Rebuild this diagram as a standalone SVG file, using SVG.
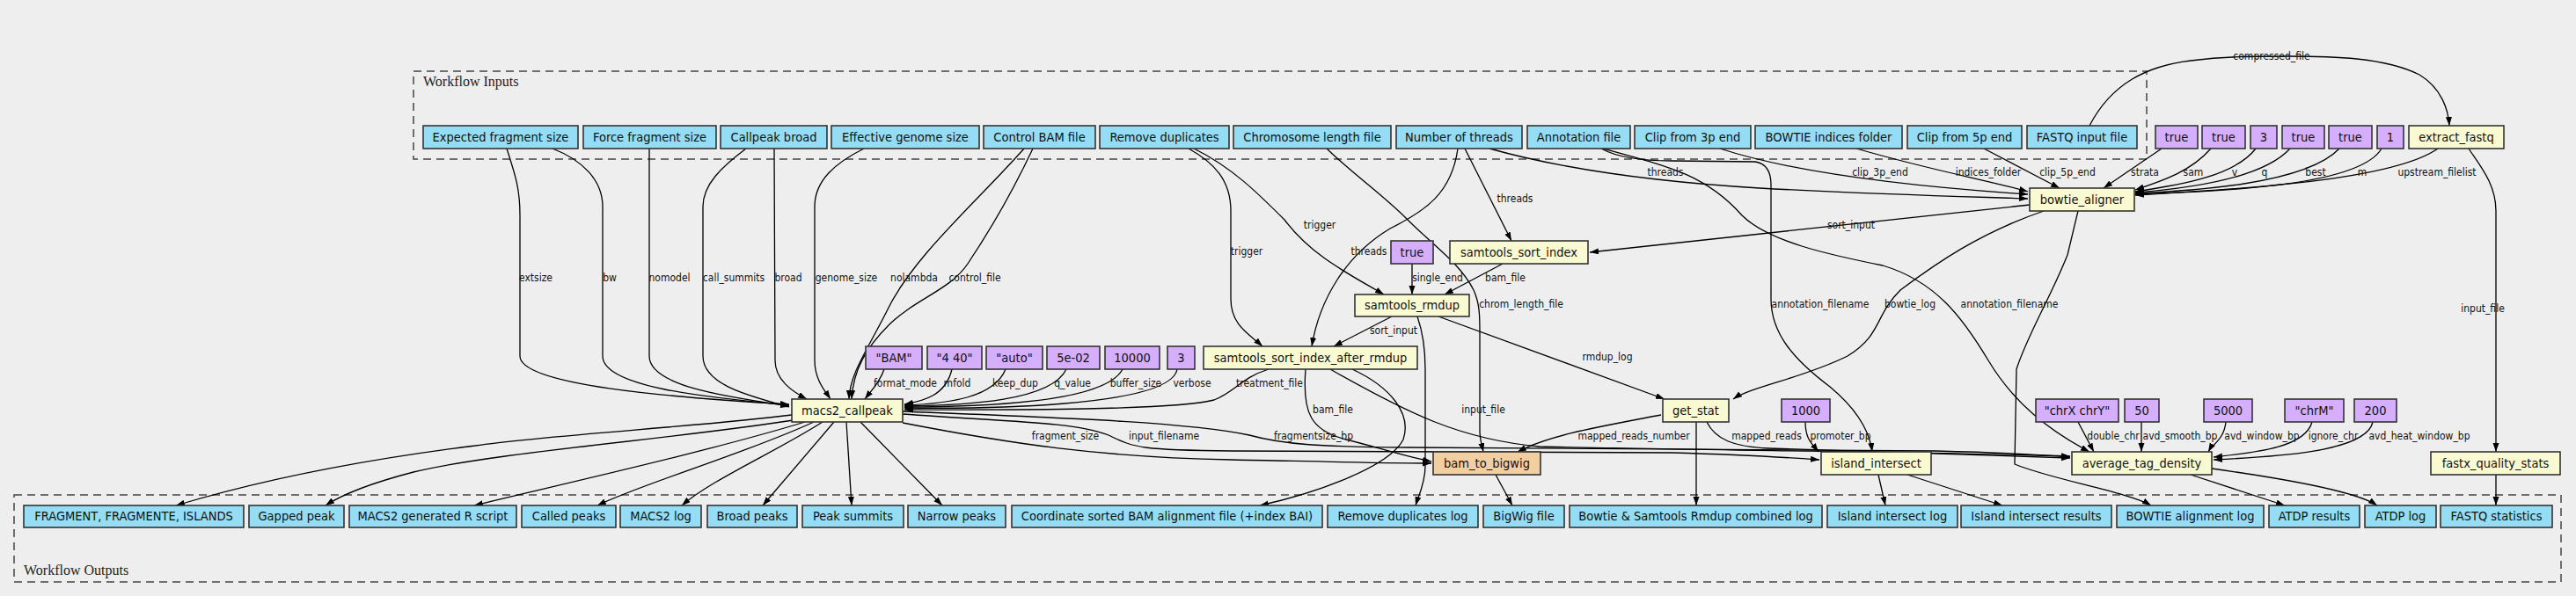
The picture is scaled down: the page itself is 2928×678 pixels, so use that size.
<svg xmlns="http://www.w3.org/2000/svg" width="2928" height="678" viewBox="0 0 2928 678">
<style>
.bg{fill:#eeeeee}
.cl{fill:none;stroke:#444;stroke-width:1.5;stroke-dasharray:9,6}
.clt{font-family:"Liberation Serif",serif;font-size:16px;fill:#222}
rect.inp{fill:#94ddf4;stroke:#333;stroke-width:1.6}
rect.cst{fill:#d5aefc;stroke:#333;stroke-width:1.6}
rect.tool{fill:#fafad2;stroke:#333;stroke-width:1.6}
rect.b2b{fill:#f3cea1;stroke:#333;stroke-width:1.6}
.nt{font-family:"DejaVu Sans Condensed","DejaVu Sans",sans-serif;font-stretch:condensed;font-size:14.5px;fill:#111;text-anchor:middle}
.el{font-family:"DejaVu Sans Condensed","DejaVu Sans",sans-serif;font-stretch:condensed;font-size:12px;fill:#111;text-anchor:middle}
#edges path{fill:none;stroke:#000;stroke-width:1.3;marker-end:url(#arr)}
</style>
<defs>
<marker id="arr" markerUnits="userSpaceOnUse" markerWidth="11" markerHeight="8" refX="10" refY="3.5" orient="auto">
<path d="M0,0 L10,3.5 L0,7 z" fill="#000"/>
</marker>
</defs>
<rect class="bg" x="0" y="0" width="2928" height="678"/>

<g id="cluster_inputs">
<rect class="cl" x="470" y="81" width="1970" height="100"/>
<text class="clt" x="481" y="98">Workflow Inputs</text>
</g>
<g id="cluster_outputs">
<rect class="cl" x="16" y="563" width="2895" height="99"/>
<text class="clt" x="27" y="654">Workflow Outputs</text>
</g>

<g id="edges">
<!-- inputs to macs2 -->
<path d="M576,169 C586,200 591,215 591,245 L591,405 C591,438 760,452 897,460"/>
<path d="M628,169 C662,182 685,205 685,235 L685,405 C685,440 800,452 897,461"/>
<path d="M738,169 L738,405 C738,440 830,452 897,462"/>
<path d="M848,169 C820,190 799,210 799,235 L799,405 C799,440 860,452 897,463"/>
<path d="M880,169 L881,410 C881,432 900,445 917,454"/>
<path d="M982,169 C950,185 926,205 926,235 L926,410 C926,432 938,445 944,454"/>
<path d="M1164,169 C1110,230 1040,290 1010,350 C985,400 966,425 965,454"/>
<path d="M1174,169 C1150,220 1120,270 1100,300 C1080,330 1040,340 1010,370 C985,395 970,420 968,454"/>
<!-- constants to macs2 -->
<path d="M1005,420 C1000,435 990,445 983,454"/>
<path d="M1082,420 C1075,450 1050,456 1028,460"/>
<path d="M1143,420 C1130,452 1080,459 1028,461"/>
<path d="M1212,420 C1195,456 1100,461 1028,462"/>
<path d="M1276,420 C1255,460 1100,463 1028,463"/>
<path d="M1338,420 C1330,465 1100,465 1028,464"/>
<path d="M1442,420 C1410,430 1405,445 1380,455 C1330,468 1100,466 1028,466"/>
<!-- macs2 outputs -->
<path d="M900,472 C800,485 620,495 540,507 C420,522 300,545 200,575"/>
<path d="M902,478 C760,500 560,515 470,537 C420,550 390,562 370,575"/>
<path d="M915,480 C800,515 620,555 539,575"/>
<path d="M925,480 C850,515 730,550 679,575"/>
<path d="M935,480 C880,515 810,545 775,575"/>
<path d="M948,480 L867,575"/>
<path d="M962,480 L968,575"/>
<path d="M978,480 L1071,575"/>
<path d="M1026,481 C1150,505 1250,520 1400,523 C1500,525 1580,527 1627,527"/>
<path d="M1026,471 C1150,480 1220,480 1260,495 C1290,510 1300,512 1400,513 L1900,515 C2000,518 2040,521 2068,523"/>
<path d="M1026,468 C1200,475 1350,480 1420,495 C1460,506 1500,508 1600,509 L2200,513 C2280,515 2330,518 2353,520"/>
<!-- samtools_sort_index_after_rmdup -->
<path d="M1484,420 C1480,470 1490,490 1530,500 C1570,510 1600,520 1627,525"/>
<path d="M1512,420 C1600,470 1660,500 1750,508 C1900,512 2200,514 2353,519"/>
<path d="M1537,420 C1580,440 1605,470 1595,500 C1580,530 1500,560 1432,575"/>
<!-- samtools_rmdup -->
<path d="M1611,360 C1618,380 1620,400 1620,420 L1620,530 C1620,550 1612,565 1609,575"/>
<path d="M1635,360 L1892,454"/>
<path d="M1582,360 L1516,394"/>
<!-- get_stat -->
<path d="M1888,472 C1820,485 1760,495 1725,514"/>
<path d="M1928,480 L1928,575"/>
<path d="M1940,480 C1950,500 1970,508 2010,510 L2353,521"/>
<!-- 1000 -->
<path d="M2052,480 C2052,500 2060,505 2067,514"/>
<!-- annotation -->
<path d="M1820,169 C1840,180 1870,183 1900,183 L1995,184 C2008,186 2013,195 2013,210 L2013,340 C2013,380 2040,410 2080,440 C2110,465 2125,490 2128,514"/>
<path d="M1822,169 C1900,190 1940,200 1980,245 C2010,275 2080,290 2140,302 C2200,320 2230,360 2260,410 C2290,460 2330,490 2375,514"/>
<!-- bowtie_aligner -->
<path d="M2323,240 C2250,265 2200,300 2160,330 C2130,360 2140,380 2100,405 C2050,430 1990,440 1970,454"/>
<path d="M2362,240 L2350,290 C2330,340 2305,380 2292,420 L2290,528 C2330,545 2420,560 2445,575"/>
<path d="M2307,233 L1807,287"/>
<!-- threads -->
<path d="M1693,169 C1750,185 1850,205 2000,214 C2150,222 2250,224 2305,226"/>
<path d="M1665,169 L1718,274"/>
<path d="M1657,169 C1650,220 1620,240 1580,260 C1530,290 1500,340 1491,394"/>
<!-- chrom length -->
<path d="M1508,169 C1540,200 1570,220 1600,250 C1630,280 1660,300 1675,330 C1682,345 1682,360 1682,380 L1682,490 C1682,500 1684,505 1686,514"/>
<!-- remove duplicates -->
<path d="M1357,169 C1400,190 1430,220 1460,250 C1490,290 1530,310 1573,335"/>
<path d="M1351,169 C1380,185 1399,205 1399,240 L1399,340 C1399,370 1420,380 1435,394"/>
<!-- bowtie inputs -->
<path d="M1955,169 C2050,200 2200,214 2305,221"/>
<path d="M2110,169 C2200,195 2260,205 2305,218"/>
<path d="M2255,169 L2341,214"/>
<path d="M2457,169 L2391,214"/>
<path d="M2513,169 C2490,195 2460,205 2427,216"/>
<path d="M2564,169 C2540,200 2480,210 2427,218"/>
<path d="M2603,169 C2570,205 2480,215 2427,219"/>
<path d="M2659,169 C2620,210 2490,217 2427,220"/>
<path d="M2707,169 C2680,215 2500,218 2427,221"/>
<path d="M2771,169 C2720,205 2550,215 2427,222"/>
<path d="M2375,143 C2400,95 2440,75 2490,69 C2530,64 2560,64 2600,64 C2650,64 2710,65 2750,85 C2775,100 2783,125 2784,143"/>
<path d="M2806,169 C2820,190 2837,210 2837,240 L2837,514"/>
<path d="M2837,540 L2837,575"/>
<!-- sort_index -->
<path d="M1708,300 L1642,335"/>
<path d="M1605,300 L1605,335"/>
<!-- avg tag density constants -->
<path d="M2362,480 L2380,514"/>
<path d="M2434,480 L2434,514"/>
<path d="M2530,480 C2528,500 2515,505 2510,514"/>
<path d="M2628,480 C2620,510 2560,515 2516,520"/>
<path d="M2697,480 C2690,515 2580,520 2516,523"/>
<!-- outputs -->
<path d="M2135,540 L2143,575"/>
<path d="M2168,540 L2276,575"/>
<path d="M2490,540 L2597,575"/>
<path d="M2514,533 C2600,545 2680,560 2702,575"/>
<path d="M1700,540 L1719,575"/>
</g>

<g id="edge_labels">
<text class="el" x="609" y="320">extsize</text>
<text class="el" x="693" y="320">bw</text>
<text class="el" x="761" y="320">nomodel</text>
<text class="el" x="834" y="320">call_summits</text>
<text class="el" x="896" y="320">broad</text>
<text class="el" x="962" y="320">genome_size</text>
<text class="el" x="1039" y="320">nolambda</text>
<text class="el" x="1108" y="320">control_file</text>
<text class="el" x="1029" y="440">format_mode</text>
<text class="el" x="1088" y="440">mfold</text>
<text class="el" x="1154" y="440">keep_dup</text>
<text class="el" x="1219" y="440">q_value</text>
<text class="el" x="1291" y="440">buffer_size</text>
<text class="el" x="1355" y="440">verbose</text>
<text class="el" x="1443" y="440">treatment_file</text>
<text class="el" x="1500" y="260">trigger</text>
<text class="el" x="1417" y="290">trigger</text>
<text class="el" x="1556" y="290">threads</text>
<text class="el" x="1722" y="230">threads</text>
<text class="el" x="1893" y="200">threads</text>
<text class="el" x="2104" y="260">sort_input</text>
<text class="el" x="1634" y="320">single_end</text>
<text class="el" x="1711" y="320">bam_file</text>
<text class="el" x="1729" y="350">chrom_length_file</text>
<text class="el" x="2069" y="350">annotation_filename</text>
<text class="el" x="2171" y="350">bowtie_log</text>
<text class="el" x="2284" y="350">annotation_filename</text>
<text class="el" x="1584" y="380">sort_input</text>
<text class="el" x="1827" y="410">rmdup_log</text>
<text class="el" x="1515" y="470">bam_file</text>
<text class="el" x="1686" y="470">input_file</text>
<text class="el" x="1211" y="500">fragment_size</text>
<text class="el" x="1323" y="500">input_filename</text>
<text class="el" x="1493" y="500">fragmentsize_bp</text>
<text class="el" x="1857" y="500">mapped_reads_number</text>
<text class="el" x="2008" y="500">mapped_reads</text>
<text class="el" x="2092" y="500">promoter_bp</text>
<text class="el" x="2402" y="500">double_chr</text>
<text class="el" x="2478" y="500">avd_smooth_bp</text>
<text class="el" x="2571" y="500">avd_window_bp</text>
<text class="el" x="2652" y="500">ignore_chr</text>
<text class="el" x="2750" y="500">avd_heat_window_bp</text>
<text class="el" x="2137" y="200">clip_3p_end</text>
<text class="el" x="2260" y="200">indices_folder</text>
<text class="el" x="2350" y="200">clip_5p_end</text>
<text class="el" x="2438" y="200">strata</text>
<text class="el" x="2493" y="200">sam</text>
<text class="el" x="2540" y="200">v</text>
<text class="el" x="2574" y="200">q</text>
<text class="el" x="2632" y="200">best</text>
<text class="el" x="2685" y="200">m</text>
<text class="el" x="2770" y="200">upstream_filelist</text>
<text class="el" x="2582" y="68">compressed_file</text>
<text class="el" x="2822" y="355">input_file</text>
</g>

<!-- input nodes -->
<g id="in_expected_fragment_size"><rect class="inp" x="481" y="143" width="176" height="26"/><text class="nt" x="569" y="161">Expected fragment size</text></g>
<g id="in_force_fragment_size"><rect class="inp" x="663" y="143" width="151" height="26"/><text class="nt" x="738.5" y="161">Force fragment size</text></g>
<g id="in_callpeak_broad"><rect class="inp" x="819" y="143" width="121" height="26"/><text class="nt" x="879.5" y="161">Callpeak broad</text></g>
<g id="in_effective_genome_size"><rect class="inp" x="945" y="143" width="168" height="26"/><text class="nt" x="1029" y="161">Effective genome size</text></g>
<g id="in_control_bam"><rect class="inp" x="1118" y="143" width="127" height="26"/><text class="nt" x="1181.5" y="161">Control BAM file</text></g>
<g id="in_remove_duplicates"><rect class="inp" x="1250" y="143" width="147" height="26"/><text class="nt" x="1323.5" y="161">Remove duplicates</text></g>
<g id="in_chrom_length"><rect class="inp" x="1402" y="143" width="179" height="26"/><text class="nt" x="1491.5" y="161">Chromosome length file</text></g>
<g id="in_threads"><rect class="inp" x="1587" y="143" width="143" height="26"/><text class="nt" x="1658.5" y="161">Number of threads</text></g>
<g id="in_annotation"><rect class="inp" x="1736" y="143" width="117" height="26"/><text class="nt" x="1794.5" y="161">Annotation file</text></g>
<g id="in_clip3p"><rect class="inp" x="1858" y="143" width="132" height="26"/><text class="nt" x="1924" y="161">Clip from 3p end</text></g>
<g id="in_bowtie_indices"><rect class="inp" x="1995" y="143" width="167" height="26"/><text class="nt" x="2078.5" y="161">BOWTIE indices folder</text></g>
<g id="in_clip5p"><rect class="inp" x="2168" y="143" width="130" height="26"/><text class="nt" x="2233" y="161">Clip from 5p end</text></g>
<g id="in_fastq"><rect class="inp" x="2304" y="143" width="125" height="26"/><text class="nt" x="2366.5" y="161">FASTQ input file</text></g>

<!-- constants top row -->
<g id="c_strata"><rect class="cst" x="2450" y="143" width="48" height="26"/><text class="nt" x="2474" y="161">true</text></g>
<g id="c_sam"><rect class="cst" x="2503" y="143" width="49" height="26"/><text class="nt" x="2527.5" y="161">true</text></g>
<g id="c_v"><rect class="cst" x="2558" y="143" width="30" height="26"/><text class="nt" x="2573" y="161">3</text></g>
<g id="c_q"><rect class="cst" x="2594" y="143" width="48" height="26"/><text class="nt" x="2618" y="161">true</text></g>
<g id="c_best"><rect class="cst" x="2647" y="143" width="49" height="26"/><text class="nt" x="2671.5" y="161">true</text></g>
<g id="c_m"><rect class="cst" x="2702" y="143" width="30" height="26"/><text class="nt" x="2717" y="161">1</text></g>
<g id="extract_fastq"><rect class="tool" x="2738" y="143" width="108" height="26"/><text class="nt" x="2792" y="161">extract_fastq</text></g>

<g id="bowtie_aligner"><rect class="tool" x="2307" y="214" width="119" height="26"/><text class="nt" x="2366.5" y="232">bowtie_aligner</text></g>
<g id="c_single_end"><rect class="cst" x="1581" y="274" width="48" height="26"/><text class="nt" x="1605" y="292">true</text></g>
<g id="samtools_sort_index"><rect class="tool" x="1648" y="274" width="157" height="26"/><text class="nt" x="1726.5" y="292">samtools_sort_index</text></g>
<g id="samtools_rmdup"><rect class="tool" x="1540" y="335" width="130" height="25"/><text class="nt" x="1605" y="352">samtools_rmdup</text></g>

<g id="c_format_mode"><rect class="cst" x="984" y="394" width="64" height="26"/><text class="nt" x="1016" y="412">"BAM"</text></g>
<g id="c_mfold"><rect class="cst" x="1054" y="394" width="62" height="26"/><text class="nt" x="1085" y="412">"4 40"</text></g>
<g id="c_keep_dup"><rect class="cst" x="1121" y="394" width="64" height="26"/><text class="nt" x="1153" y="412">"auto"</text></g>
<g id="c_q_value"><rect class="cst" x="1190" y="394" width="60" height="26"/><text class="nt" x="1220" y="412">5e-02</text></g>
<g id="c_buffer_size"><rect class="cst" x="1256" y="394" width="62" height="26"/><text class="nt" x="1287" y="412">10000</text></g>
<g id="c_verbose"><rect class="cst" x="1327" y="394" width="31" height="26"/><text class="nt" x="1342.5" y="412">3</text></g>
<g id="samtools_sort_index_after_rmdup"><rect class="tool" x="1368" y="394" width="243" height="26"/><text class="nt" x="1489.5" y="412">samtools_sort_index_after_rmdup</text></g>

<g id="macs2_callpeak"><rect class="tool" x="900" y="454" width="126" height="26"/><text class="nt" x="963" y="472">macs2_callpeak</text></g>
<g id="get_stat"><rect class="tool" x="1890" y="454" width="75" height="26"/><text class="nt" x="1927.5" y="472">get_stat</text></g>
<g id="c_promoter_bp"><rect class="cst" x="2025" y="454" width="55" height="26"/><text class="nt" x="2052.5" y="472">1000</text></g>
<g id="c_double_chr"><rect class="cst" x="2314" y="454" width="94" height="26"/><text class="nt" x="2361" y="472">"chrX chrY"</text></g>
<g id="c_avd_smooth"><rect class="cst" x="2415" y="454" width="39" height="26"/><text class="nt" x="2434.5" y="472">50</text></g>
<g id="c_avd_window"><rect class="cst" x="2505" y="454" width="55" height="26"/><text class="nt" x="2532.5" y="472">5000</text></g>
<g id="c_ignore_chr"><rect class="cst" x="2597" y="454" width="67" height="26"/><text class="nt" x="2630.5" y="472">"chrM"</text></g>
<g id="c_avd_heat"><rect class="cst" x="2676" y="454" width="48" height="26"/><text class="nt" x="2700" y="472">200</text></g>

<g id="bam_to_bigwig"><rect class="b2b" x="1629" y="514" width="122" height="26"/><text class="nt" x="1690" y="532">bam_to_bigwig</text></g>
<g id="island_intersect"><rect class="tool" x="2070" y="514" width="125" height="26"/><text class="nt" x="2132.5" y="532">island_intersect</text></g>
<g id="average_tag_density"><rect class="tool" x="2355" y="514" width="159" height="26"/><text class="nt" x="2434.5" y="532">average_tag_density</text></g>
<g id="fastx_quality_stats"><rect class="tool" x="2763" y="514" width="147" height="26"/><text class="nt" x="2836.5" y="532">fastx_quality_stats</text></g>

<!-- outputs -->
<g id="out_fragment"><rect class="inp" x="27" y="575" width="250" height="25"/><text class="nt" x="152" y="592">FRAGMENT, FRAGMENTE, ISLANDS</text></g>
<g id="out_gapped"><rect class="inp" x="283" y="575" width="108" height="25"/><text class="nt" x="337" y="592">Gapped peak</text></g>
<g id="out_rscript"><rect class="inp" x="397" y="575" width="190" height="25"/><text class="nt" x="492" y="592">MACS2 generated R script</text></g>
<g id="out_called"><rect class="inp" x="593" y="575" width="107" height="25"/><text class="nt" x="646.5" y="592">Called peaks</text></g>
<g id="out_macs2_log"><rect class="inp" x="705" y="575" width="92" height="25"/><text class="nt" x="751" y="592">MACS2 log</text></g>
<g id="out_broad"><rect class="inp" x="804" y="575" width="102" height="25"/><text class="nt" x="855" y="592">Broad peaks</text></g>
<g id="out_summits"><rect class="inp" x="912" y="575" width="115" height="25"/><text class="nt" x="969.5" y="592">Peak summits</text></g>
<g id="out_narrow"><rect class="inp" x="1032" y="575" width="111" height="25"/><text class="nt" x="1087.5" y="592">Narrow peaks</text></g>
<g id="out_bam"><rect class="inp" x="1150" y="575" width="353" height="25"/><text class="nt" x="1326.5" y="592">Coordinate sorted BAM alignment file (+index BAI)</text></g>
<g id="out_rmdup_log"><rect class="inp" x="1509" y="575" width="171" height="25"/><text class="nt" x="1594.5" y="592">Remove duplicates log</text></g>
<g id="out_bigwig"><rect class="inp" x="1686" y="575" width="92" height="25"/><text class="nt" x="1732" y="592">BigWig file</text></g>
<g id="out_combined_log"><rect class="inp" x="1784" y="575" width="287" height="25"/><text class="nt" x="1927.5" y="592">Bowtie &amp; Samtools Rmdup combined log</text></g>
<g id="out_island_log"><rect class="inp" x="2077" y="575" width="148" height="25"/><text class="nt" x="2151" y="592">Island intersect log</text></g>
<g id="out_island_results"><rect class="inp" x="2229" y="575" width="171" height="25"/><text class="nt" x="2314.5" y="592">Island intersect results</text></g>
<g id="out_bowtie_log"><rect class="inp" x="2406" y="575" width="167" height="25"/><text class="nt" x="2489.5" y="592">BOWTIE alignment log</text></g>
<g id="out_atdp_results"><rect class="inp" x="2579" y="575" width="103" height="25"/><text class="nt" x="2630.5" y="592">ATDP results</text></g>
<g id="out_atdp_log"><rect class="inp" x="2688" y="575" width="81" height="25"/><text class="nt" x="2728.5" y="592">ATDP log</text></g>
<g id="out_fastq_stats"><rect class="inp" x="2774" y="575" width="127" height="25"/><text class="nt" x="2837.5" y="592">FASTQ statistics</text></g>
</svg>
